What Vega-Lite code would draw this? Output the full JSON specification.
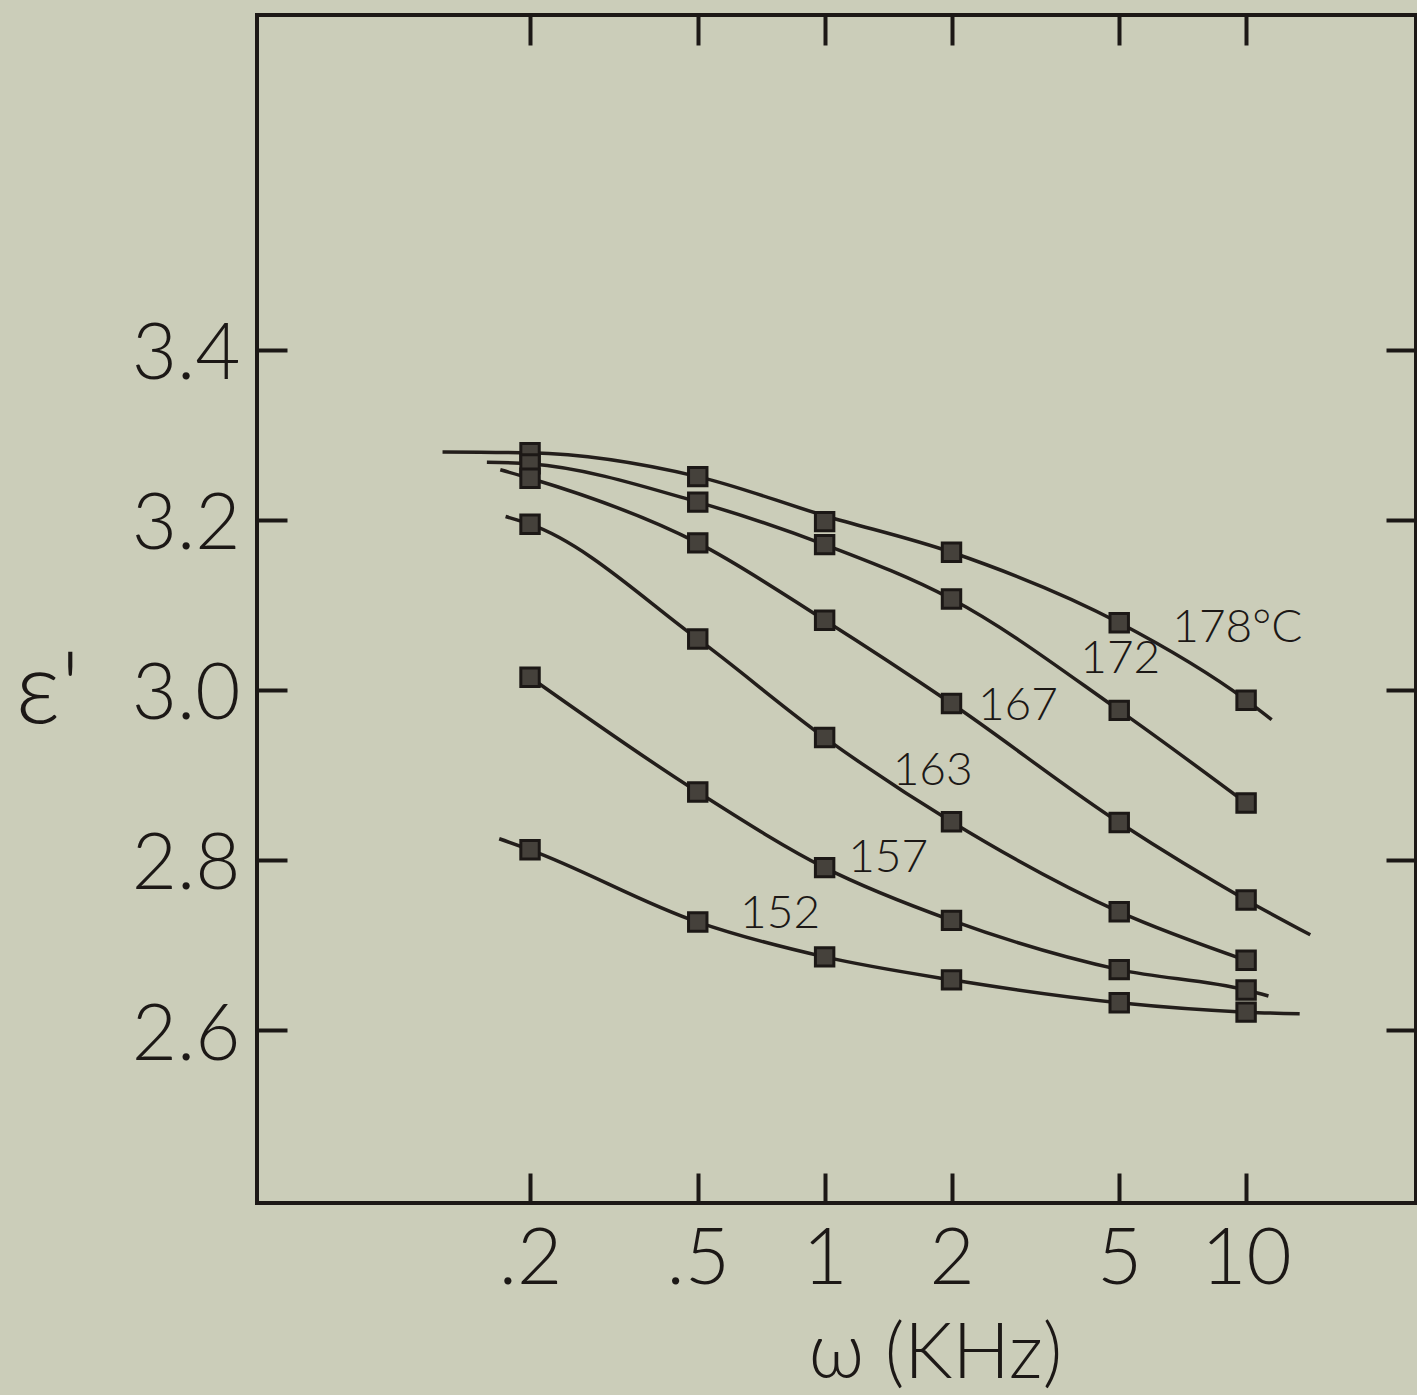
{
  "$schema": "https://vega.github.io/schema/vega-lite/v6.json",
  "width": 1159,
  "height": 1188,
  "autosize": {"type": "none"},
  "padding": {"left": 257, "top": 15, "right": 1, "bottom": 192},
  "background": "#cbcdb9",
  "config": {
    "view": {"stroke": "#1c1816", "strokeWidth": 4},
    "font": "Lato, 'DejaVu Sans'",
    "axis": {
      "domain": false,
      "grid": false,
      "tickSize": -30,
      "tickWidth": 4,
      "tickColor": "#1c1816",
      "labelFont": "Lato, 'DejaVu Sans'",
      "labelFontWeight": 300,
      "labelColor": "#1c1816",
      "labelFontSize": 78,
      "titleFont": "Lato, 'DejaVu Sans'",
      "titleFontWeight": 300,
      "titleColor": "#1c1816"
    }
  },
  "datasets": {
    "pts": [
      {"w": 0.2, "eps": 3.279, "T": "178"}, {"w": 0.5, "eps": 3.251, "T": "178"}, {"w": 1, "eps": 3.198, "T": "178"}, {"w": 2, "eps": 3.162, "T": "178"}, {"w": 5, "eps": 3.079, "T": "178"}, {"w": 10, "eps": 2.988, "T": "178"},
      {"w": 0.2, "eps": 3.266, "T": "172"}, {"w": 0.5, "eps": 3.221, "T": "172"}, {"w": 1, "eps": 3.171, "T": "172"}, {"w": 2, "eps": 3.107, "T": "172"}, {"w": 5, "eps": 2.976, "T": "172"}, {"w": 10, "eps": 2.867, "T": "172"},
      {"w": 0.2, "eps": 3.249, "T": "167"}, {"w": 0.5, "eps": 3.173, "T": "167"}, {"w": 1, "eps": 3.082, "T": "167"}, {"w": 2, "eps": 2.984, "T": "167"}, {"w": 5, "eps": 2.844, "T": "167"}, {"w": 10, "eps": 2.753, "T": "167"},
      {"w": 0.2, "eps": 3.195, "T": "163"}, {"w": 0.5, "eps": 3.060, "T": "163"}, {"w": 1, "eps": 2.944, "T": "163"}, {"w": 2, "eps": 2.845, "T": "163"}, {"w": 5, "eps": 2.739, "T": "163"}, {"w": 10, "eps": 2.682, "T": "163"},
      {"w": 0.2, "eps": 3.015, "T": "157"}, {"w": 0.5, "eps": 2.880, "T": "157"}, {"w": 1, "eps": 2.791, "T": "157"}, {"w": 2, "eps": 2.729, "T": "157"}, {"w": 5, "eps": 2.671, "T": "157"}, {"w": 10, "eps": 2.647, "T": "157"},
      {"w": 0.2, "eps": 2.812, "T": "152"}, {"w": 0.5, "eps": 2.727, "T": "152"}, {"w": 1, "eps": 2.686, "T": "152"}, {"w": 2, "eps": 2.659, "T": "152"}, {"w": 5, "eps": 2.632, "T": "152"}, {"w": 10, "eps": 2.621, "T": "152"}
    ],
    "curve": [
      {"w": 0.124, "eps": 3.280, "T": "178"}, {"w": 0.2, "eps": 3.279, "T": "178"}, {"w": 0.5, "eps": 3.251, "T": "178"}, {"w": 1, "eps": 3.205, "T": "178"}, {"w": 2, "eps": 3.162, "T": "178"}, {"w": 5, "eps": 3.079, "T": "178"}, {"w": 10, "eps": 2.988, "T": "178"}, {"w": 11.5, "eps": 2.965, "T": "178"},
      {"w": 0.158, "eps": 3.268, "T": "172"}, {"w": 0.2, "eps": 3.266, "T": "172"}, {"w": 0.5, "eps": 3.221, "T": "172"}, {"w": 1, "eps": 3.171, "T": "172"}, {"w": 2, "eps": 3.107, "T": "172"}, {"w": 5, "eps": 2.976, "T": "172"}, {"w": 10, "eps": 2.867, "T": "172"},
      {"w": 0.170, "eps": 3.259, "T": "167"}, {"w": 0.2, "eps": 3.249, "T": "167"}, {"w": 0.5, "eps": 3.173, "T": "167"}, {"w": 1, "eps": 3.082, "T": "167"}, {"w": 2, "eps": 2.984, "T": "167"}, {"w": 5, "eps": 2.844, "T": "167"}, {"w": 10, "eps": 2.753, "T": "167"}, {"w": 14.2, "eps": 2.712, "T": "167"},
      {"w": 0.175, "eps": 3.204, "T": "163"}, {"w": 0.2, "eps": 3.195, "T": "163"}, {"w": 0.5, "eps": 3.060, "T": "163"}, {"w": 1, "eps": 2.944, "T": "163"}, {"w": 2, "eps": 2.845, "T": "163"}, {"w": 5, "eps": 2.739, "T": "163"}, {"w": 10, "eps": 2.682, "T": "163"},
      {"w": 0.2, "eps": 3.015, "T": "157"}, {"w": 0.5, "eps": 2.880, "T": "157"}, {"w": 1, "eps": 2.791, "T": "157"}, {"w": 2, "eps": 2.729, "T": "157"}, {"w": 5, "eps": 2.671, "T": "157"}, {"w": 10, "eps": 2.647, "T": "157"}, {"w": 11.3, "eps": 2.640, "T": "157"},
      {"w": 0.169, "eps": 2.825, "T": "152"}, {"w": 0.2, "eps": 2.812, "T": "152"}, {"w": 0.5, "eps": 2.727, "T": "152"}, {"w": 1, "eps": 2.686, "T": "152"}, {"w": 2, "eps": 2.659, "T": "152"}, {"w": 5, "eps": 2.632, "T": "152"}, {"w": 10, "eps": 2.621, "T": "152"}, {"w": 13.4, "eps": 2.619, "T": "152"}
    ],
    "labels": [
      {"w": 6.68, "eps": 3.0565, "text": "178°C"},
      {"w": 4.04, "eps": 3.020, "text": "172"},
      {"w": 2.31, "eps": 2.965, "text": "167"},
      {"w": 1.45, "eps": 2.888, "text": "163"},
      {"w": 1.137, "eps": 2.786, "text": "157"},
      {"w": 0.630, "eps": 2.720, "text": "152"}
    ]
  },
  "layer": [
    {
      "data": {"name": "curve"},
      "mark": {"type": "line", "interpolate": "monotone", "color": "#231e1b", "strokeWidth": 3.5},
      "encoding": {
        "x": {"field": "w", "type": "quantitative",
              "scale": {"type": "log", "domain": [0.045, 25.3], "nice": false},
              "axis": {"orient": "bottom", "values": [0.2, 0.5, 1, 2, 5, 10],
                       "labelExpr": "datum.value == 0.2 ? '.2' : datum.value == 0.5 ? '.5' : format(datum.value, 'd')",
                       "labelPadding": 48, "title": "ω (KHz)", "titleFontSize": 76,
                       "titleX": 678, "titleY": 174, "titleAlign": "center", "titleBaseline": "alphabetic", "titleAnchor": null}},
        "y": {"field": "eps", "type": "quantitative",
              "scale": {"domain": [2.3965, 3.794], "nice": false, "zero": false},
              "axis": {"orient": "left", "values": [2.6, 2.8, 3.0, 3.2, 3.4], "format": ".1f",
                       "labelPadding": 47, "labelOffset": 6, "title": "ε'", "titleFontSize": 100, "titleAngle": 0,
                       "titleX": -242, "titleY": 707, "titleAlign": "left", "titleBaseline": "alphabetic", "titleAnchor": null}},
        "detail": {"field": "T"}
      }
    },
    {
      "data": {"name": "pts"},
      "mark": {"type": "point", "shape": "square", "filled": true, "size": 340, "color": "#45413b", "stroke": "#1c1816", "strokeWidth": 3, "opacity": 1},
      "encoding": {
        "x": {"field": "w", "type": "quantitative",
              "axis": {"orient": "top", "values": [0.2, 0.5, 1, 2, 5, 10], "labels": false, "title": null}},
        "y": {"field": "eps", "type": "quantitative",
              "axis": {"orient": "right", "values": [2.6, 2.8, 3.0, 3.2, 3.4], "labels": false, "title": null}}
      }
    },
    {
      "data": {"name": "labels"},
      "mark": {"type": "text", "align": "left", "baseline": "alphabetic", "fontSize": 46, "fontWeight": 300, "color": "#1c1816"},
      "encoding": {
        "x": {"field": "w", "type": "quantitative", "axis": null},
        "y": {"field": "eps", "type": "quantitative", "axis": null},
        "text": {"field": "text"}
      }
    }
  ],
  "resolve": {"axis": {"x": "independent", "y": "independent"}}
}
